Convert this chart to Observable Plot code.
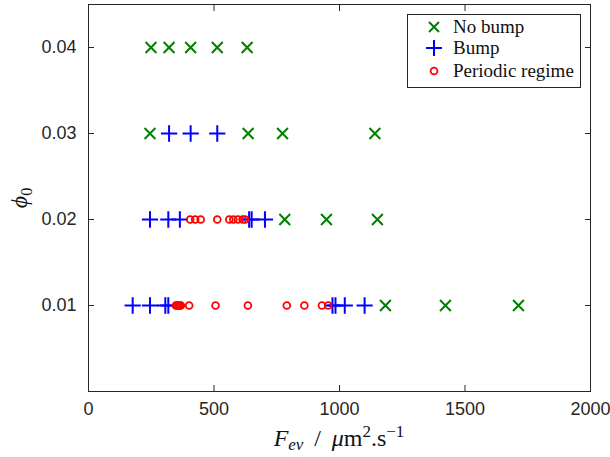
<!DOCTYPE html>
<html>
<head>
<meta charset="utf-8">
<script src="https://cdn.jsdelivr.net/npm/d3@7"></script>
<script src="https://cdn.jsdelivr.net/npm/@observablehq/plot@0.6"></script>
<style>
  body { margin: 0; background: #fff; }
  #wrap { position: relative; width: 610px; height: 457px; overflow: hidden; }
  #legend {
    position: absolute; left: 407px; top: 14px; width: 172px; height: 72px;
    border: 1px solid #262626; background: #fff;
    font-family: "Liberation Serif", "Times New Roman", "DejaVu Serif", serif; font-size: 19px; color: #111;
  }
  .item { position: absolute; left: 0; height: 22px; display: flex; align-items: center; white-space: nowrap; }
  .item svg { margin-left: 16px; margin-right: 9px; flex: none; }
</style>
</head>
<body>
<div id="wrap"></div>
<script>
// ---- data ----
const xTicks = [0, 500, 1000, 1500, 2000];
const yTicks = [0.01, 0.02, 0.03, 0.04];

const noBumpPhi = [0.04, 0.04, 0.04, 0.04, 0.04, 0.03, 0.03, 0.03, 0.03, 0.02, 0.02, 0.02, 0.01, 0.01, 0.01];
const noBumpF   = [249, 321, 407, 513, 632, 245, 636, 773, 1141, 782, 948, 1151, 1183, 1422, 1713];

const bumpPhi = [0.03, 0.03, 0.03, 0.02, 0.02, 0.02, 0.02, 0.02, 0.02, 0.01, 0.01, 0.01, 0.01, 0.01, 0.01, 0.01, 0.01];
const bumpF   = [321, 407, 513, 245, 318, 364, 640, 650, 703, 176, 245, 306, 318, 972, 984, 1021, 1100];

const periodicPhi = [0.02, 0.02, 0.02, 0.02, 0.02, 0.02, 0.02, 0.02, 0.02,
                     0.01, 0.01, 0.01, 0.01, 0.01, 0.01, 0.01, 0.01, 0.01, 0.01, 0.01, 0.01, 0.01];
const periodicF   = [405, 425, 447, 513, 561, 577, 595, 614, 624,
                     348, 352, 356, 360, 364, 368, 401, 506, 635, 790, 860, 930, 955];

const seriesNames = ["No bump", "Bump", "Periodic regime"];
const seriesColors = ["#008000", "#0000ff", "#ff0000"];

const toRows = (F, P) => F.map((f, i) => ({F: f, phi: P[i]}));
const noBump = toRows(noBumpF, noBumpPhi);
const bump = toRows(bumpF, bumpPhi);
const periodic = toRows(periodicF, periodicPhi);

const axisColor = "#262626";
const tickFont = {fontFamily: "Liberation Sans, Arial, sans-serif", fontSize: 18, fill: axisColor};

const chart = Plot.plot({
  width: 610, height: 457,
  marginLeft: 88, marginRight: 20, marginTop: 4, marginBottom: 66,
  style: {background: "#fff", color: axisColor, overflow: "visible"},
  x: {domain: [0, 2000]},
  y: {domain: [0, 0.045]},
  marks: [
    Plot.frame({stroke: axisColor, strokeWidth: 1}),
    Plot.axisX(xTicks, {anchor: "bottom", tickSize: -6, tickPadding: 17, tickFormat: d3.format("d"), label: null, stroke: axisColor, ...tickFont}),
    Plot.axisX(xTicks, {anchor: "top", tickSize: -6, tickFormat: () => "", label: null, stroke: axisColor}),
    Plot.axisY(yTicks, {anchor: "left", tickSize: -6, tickPadding: 18, tickFormat: d3.format(".2f"), label: null, stroke: axisColor, ...tickFont}),
    Plot.axisY(yTicks, {anchor: "right", tickSize: -6, tickFormat: () => "", label: null, stroke: axisColor}),
    Plot.dot(noBump, {x: "F", y: "phi", symbol: "times", r: 5, stroke: seriesColors[0], strokeWidth: 2}),
    Plot.dot(bump, {x: "F", y: "phi", symbol: "plus", r: 5.3, stroke: seriesColors[1], strokeWidth: 2}),
    Plot.dot(periodic, {x: "F", y: "phi", symbol: "circle", r: 3.4, stroke: seriesColors[2], strokeWidth: 1.8})
  ]
});

const wrap = document.getElementById("wrap");
wrap.appendChild(chart);

// axis titles (serif, with sub/superscripts)
const svg = d3.select(chart);
const serif = "Liberation Serif, Times New Roman, DejaVu Serif, serif";
const xl = svg.append("text")
  .attr("x", 339).attr("y", 446)
  .attr("text-anchor", "middle")
  .attr("font-family", serif).attr("font-size", 24).attr("fill", "#111");
xl.append("tspan").attr("font-style", "italic").text("F");
xl.append("tspan").attr("font-style", "italic").attr("font-size", 17).attr("dy", 4).text("ev");
xl.append("tspan").attr("dy", -4).text("\u2009 / \u2009");
xl.append("tspan").attr("font-style", "italic").text("μ");
xl.append("tspan").text("m");
xl.append("tspan").attr("font-size", 17).attr("dy", -9).text("2");
xl.append("tspan").attr("dy", 9).text(".s");
xl.append("tspan").attr("font-size", 17).attr("dy", -9).text("−1");

const yl = svg.append("text")
  .attr("transform", "translate(27,198) rotate(-90)")
  .attr("text-anchor", "middle")
  .attr("font-family", serif).attr("font-size", 24).attr("fill", "#111");
yl.append("tspan").attr("font-style", "italic").text("ϕ");
yl.append("tspan").attr("font-size", 16).attr("dy", 5).text("0");

// legend (inside the plot area, top right)
const legend = document.createElement("div");
legend.id = "legend";
const symbolPaths = [
  '<path d="M-5,-5L5,5M5,-5L-5,5" stroke="' + seriesColors[0] + '" stroke-width="2" fill="none"/>',
  '<path d="M-8,0H8M0,-8V8" stroke="' + seriesColors[1] + '" stroke-width="2" fill="none"/>',
  '<circle r="3.4" stroke="' + seriesColors[2] + '" stroke-width="1.8" fill="none"/>'
];
const itemTops = [1, 22, 45];
seriesNames.forEach((name, i) => {
  const it = document.createElement("div");
  it.className = "item";
  it.style.top = itemTops[i] + "px";
  it.innerHTML = '<svg width="20" height="20" viewBox="-10 -10 20 20">' + symbolPaths[i] + '</svg><span>' + name + '</span>';
  legend.appendChild(it);
});
wrap.appendChild(legend);
</script>
</body>
</html>
